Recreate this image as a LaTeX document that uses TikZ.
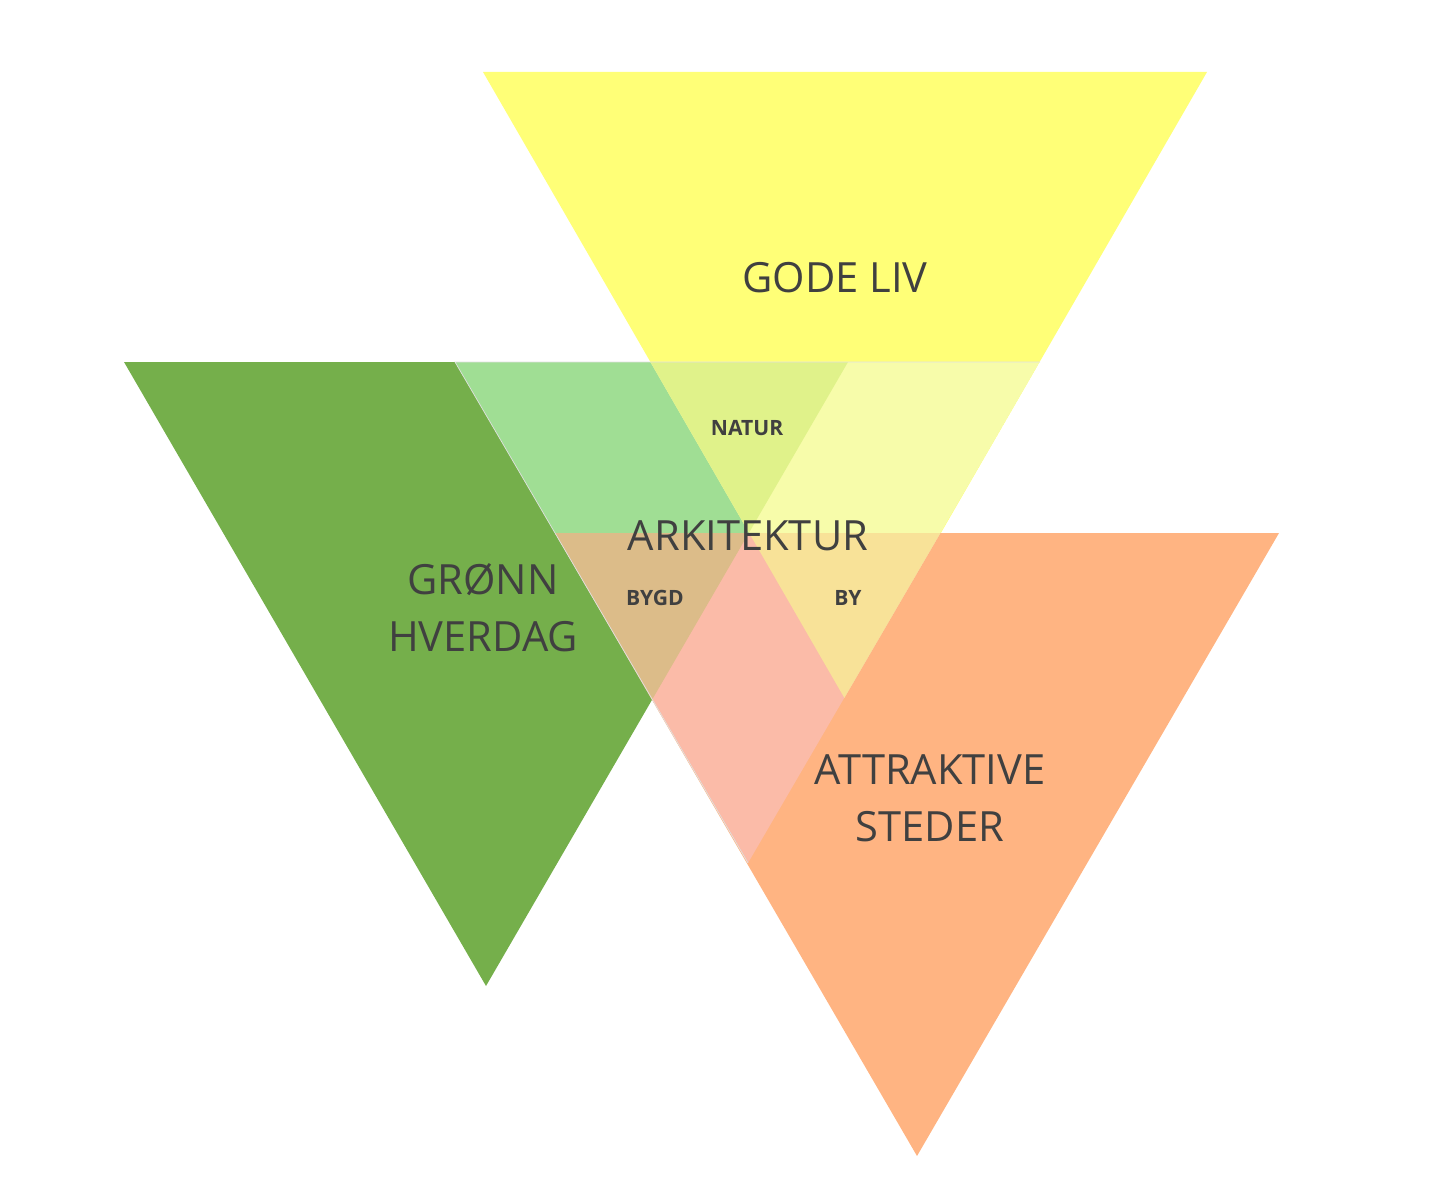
\documentclass[tikz,border=0pt]{standalone}
\usepackage{fontspec}
\setmainfont{Open Sans}
\usetikzlibrary{positioning}
\definecolor{livyellow}{HTML}{FFFF77}
\definecolor{hverdaggreen}{HTML}{75AF4B}
\definecolor{stedorange}{HTML}{FFB482}
\definecolor{softgreen}{HTML}{A0DE94}
\definecolor{softyellow}{HTML}{F7FCAA}
\definecolor{softpink}{HTML}{FBBBA8}
\definecolor{naturfill}{HTML}{E0F28A}
\definecolor{bygdfill}{HTML}{DCBC89}
\definecolor{byfill}{HTML}{F8E298}
\definecolor{textgray}{HTML}{404040}

\begin{document}
\begin{tikzpicture}[
    x=0.02cm, y=-0.02cm,
    bigtext/.style={text=textgray, font=\fontsize{23.7}{32.4}\selectfont, align=center},
    smalltext/.style={text=textgray, font=\fontsize{12}{14}\selectfont\bfseries}
]
\useasboundingbox (0,0) rectangle (1452,1182);

% corners of the triangles
\coordinate (Y1) at (483,72);
\coordinate (Y2) at (1207,72);
\coordinate (Y3) at (845,699);
\coordinate (G1) at (124,362);
\coordinate (G2) at (848,362);
\coordinate (G3) at (486,986);
\coordinate (O1) at (555,533);
\coordinate (O2) at (1279,533);
\coordinate (O3) at (917,1156);
\coordinate (C1) at (455,362);
\coordinate (C2) at (1040,362);
\coordinate (C3) at (748,863);

\fill[livyellow] (Y1) -- (Y2) -- (Y3) -- cycle;
\fill[hverdaggreen] (G1) -- (G2) -- (G3) -- cycle;
\fill[stedorange] (O1) -- (O2) -- (O3) -- cycle;

% middle triangle
\begin{scope}
  \clip (C1) -- (C2) -- (C3) -- cycle;
  \fill[softgreen] (G1) -- (G2) -- (G3) -- cycle;
  \fill[softyellow] (Y1) -- (Y2) -- (Y3) -- cycle;
  \fill[softpink] (O1) -- (O2) -- (O3) -- cycle;
  \begin{scope}
    \clip (G1) -- (G2) -- (G3) -- cycle;
    \fill[naturfill] (Y1) -- (Y2) -- (Y3) -- cycle;
    \fill[bygdfill] (O1) -- (O2) -- (O3) -- cycle;
  \end{scope}
  \begin{scope}
    \clip (Y1) -- (Y2) -- (Y3) -- cycle;
    \fill[byfill] (O1) -- (O2) -- (O3) -- cycle;
  \end{scope}
\end{scope}
\draw[black!12, line width=0.4pt] (C2) -- (C1) -- (C3);

\node[bigtext] (godeliv) at (835,278) {GODE LIV};
\node[bigtext] (arkitektur) at (748,536) {ARKITEKTUR};
\node[bigtext] (gronn) at (483,608) {GRØNN\\HVERDAG};
\node[bigtext] (attraktive) at (930,798) {ATTRAKTIVE\\STEDER};
\node[smalltext] (natur) at (747,428) {NATUR};
\node[smalltext] (bygd) at (655,598) {BYGD};
\node[smalltext] (by) at (848,598) {BY};
\end{tikzpicture}
\end{document}
